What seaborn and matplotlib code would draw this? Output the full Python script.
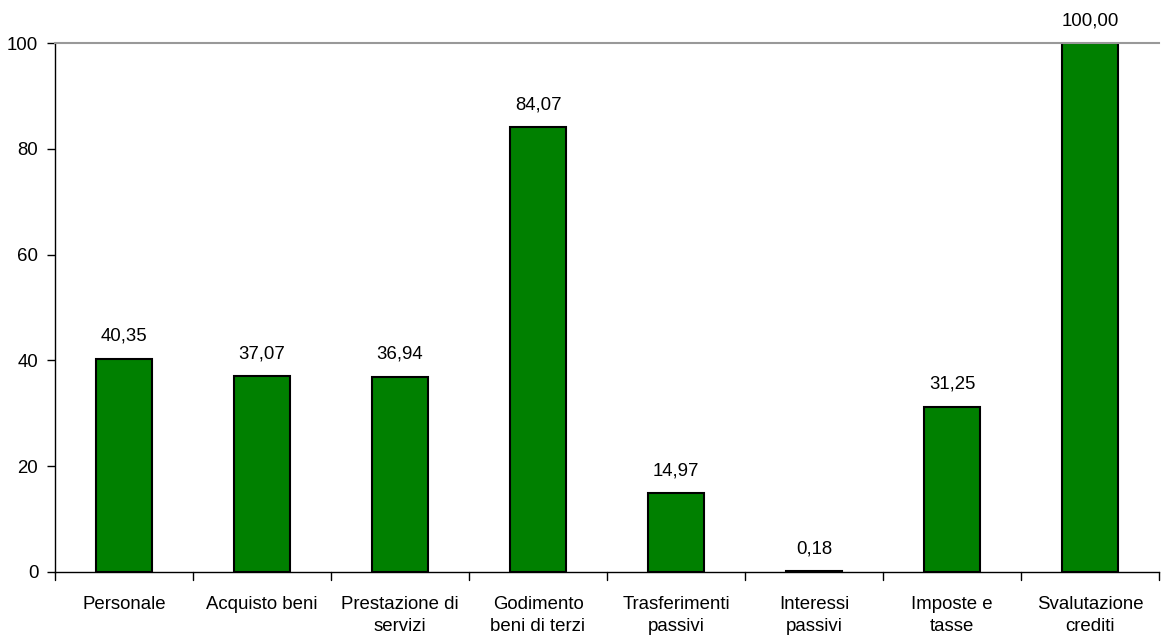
import matplotlib
matplotlib.use("Agg")
import matplotlib.pyplot as plt
import seaborn as sns
import pandas as pd

categories = ["Personale", "Acquisto beni", "Prestazione di\nservizi", "Godimento\nbeni di terzi",
              "Trasferimenti\npassivi", "Interessi\npassivi", "Imposte e\ntasse", "Svalutazione\ncrediti"]
values = [40.35, 37.07, 36.94, 84.07, 14.97, 0.18, 31.25, 100.00]
yticks = [0, 20, 40, 60, 80, 100]

sns.set_style("white")
plt.rcParams['font.family'] = ['Liberation Sans', 'DejaVu Sans']
plt.rcParams['text.color'] = 'black'
plt.rcParams['xtick.color'] = 'black'
plt.rcParams['ytick.color'] = 'black'

FS = 13.4
df = pd.DataFrame({"cat": categories, "val": values})
fig = plt.figure(figsize=(11.61, 6.35), dpi=100)
ax = fig.add_axes([55/1161, 1-572/635, (1159-55)/1161, (572-43)/635])
sns.barplot(data=df, x="cat", y="val", color="#008000", edgecolor="black",
            linewidth=1.5, width=0.4, saturation=1, ax=ax)
ax.set_xlim(-0.5, len(categories)-0.5)
ax.set_ylim(0, 100)
ax.set_yticks(yticks)
ax.set_yticklabels([str(t) for t in yticks], fontsize=FS)
ax.set_xticks([i for i in range(len(categories))])
ax.set_xticklabels(categories, fontsize=FS, linespacing=1.45, va="top")
ax.tick_params(axis='x', length=0, pad=17)
for i in range(len(categories)+1):
    ax.plot([i-0.5, i-0.5], [0, -1.5], color="black", lw=1, clip_on=False)
ax.tick_params(axis='y', length=6, width=1, color="black", left=True, pad=6)
ax.set_xlabel("")
ax.set_ylabel("")
ax.spines['right'].set_visible(False)
ax.spines['top'].set_color("#999999")
ax.spines['top'].set_linewidth(1.5)
ax.spines['left'].set_color("black")
ax.spines['bottom'].set_color("black")
for s in ['left', 'bottom']:
    ax.spines[s].set_linewidth(1)
for i, v in enumerate(values):
    ax.text(i, v + 2.6, f"{v:.2f}".replace(".", ","), ha="center", va="bottom", fontsize=FS)
fig.savefig("out.png", dpi=100)
